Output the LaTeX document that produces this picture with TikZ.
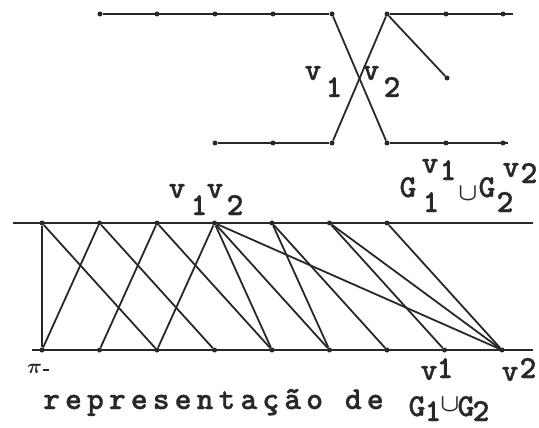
\documentclass[tikz,border=0pt]{standalone}
\usepackage{fontspec}
\usetikzlibrary{positioning}
\newfontfamily\typew{lmmonolt10-bold.otf}[FakeBold=1]
\newfontfamily\typewsp{lmmonolt10-bold.otf}[FakeBold=1,LetterSpace=16]
\definecolor{ink}{RGB}{40,40,40}

\begin{document}
\begin{tikzpicture}[x=1pt,y=-1pt,
      rail/.style={draw=ink,line width=2.2pt},
      edge/.style={draw=ink,line width=1.8pt},
      vtx/.style={circle,fill=ink,inner sep=0pt,minimum size=5pt},
      lbl/.style={text=ink,inner sep=0pt,anchor=base,
                  font=\fontsize{32}{32}\selectfont\typew},
      capt/.style={text=ink,inner sep=0pt,anchor=base west,
                   font=\fontsize{32}{32}\selectfont\typewsp},
      cupsign/.style={text=ink,inner sep=0pt,
                      font=\fontsize{24}{24}\selectfont\boldmath}]
    \useasboundingbox (0,0) rectangle (539,428);
    % G1 and G2, upper drawing
    \node[vtx] (a1) at (100,14) {};
    \node[vtx] (a2) at (157,14) {};
    \node[vtx] (a3) at (215,14) {};
    \node[vtx] (a4) at (273,14) {};
    \node[vtx] (a5) at (332,14) {};
    \node[vtx] (c1) at (387,14) {};
    \node[vtx] (c2) at (446,14) {};
    \node[vtx] (c3) at (503,14) {};
    \coordinate (cend) at (513,14);
    \node[vtx] (p)  at (447,78) {};
    \node[vtx] (d1) at (215,143) {};
    \node[vtx] (d2) at (273,143) {};
    \node[vtx] (d3) at (332,143) {};
    \node[vtx] (e1) at (387,143) {};
    \node[vtx] (e2) at (446,143) {};
    \node[vtx] (e3) at (503,143) {};
    \coordinate (eend) at (508,143);
    \draw[rail] (a1) -- (a5);
    \draw[rail] (c1) -- (cend);
    \draw[rail] (d1) -- (d3);
    \draw[rail] (e1) -- (eend);
    \draw[edge] (a5) -- (e1);
    \draw[edge] (c1) -- (d3);
    \draw[edge] (c1) -- (p);
    \node[lbl] (xv1) at (313,80) {v};
    \node[lbl] (xi1) at (334,97) {1};
    \node[lbl] (xv2) at (371,80) {v};
    \node[lbl] (xi2) at (392,97) {2};
    % union label
    \node[lbl] (ug1)  at (408,197) {G};
    \node[lbl] (uv1)  at (430,173) {v};
    \node[lbl] (us1)  at (448,180) {1};
    \node[lbl] (ul1)  at (431,212) {1};
    \node[cupsign] (ucup) at (468,194) {$\cup$};
    \node[lbl] (ug2)  at (487,197) {G};
    \node[lbl] (ul2)  at (505,212) {2};
    \node[lbl] (uv2)  at (511,177) {v};
    \node[lbl] (us2)  at (529,183) {2};

    % pi-representation, lower drawing
    \coordinate (tl) at (13,223);
    \coordinate (tr) at (533,223);
    \coordinate (bl) at (32,350);
    \coordinate (br) at (533,350);
    \draw[rail] (tl) -- (tr);
    \draw[rail] (bl) -- (br);
    \node[vtx] (t0) at (42,223) {};
    \node[vtx] (t1) at (99.5,223) {};
    \node[vtx] (t2) at (157,223) {};
    \node[vtx] (t3) at (214.5,223) {};
    \node[vtx] (t4) at (272,223) {};
    \node[vtx] (t5) at (329.5,223) {};
    \node[vtx] (t6) at (387,223) {};
    \node[vtx] (b0) at (42,350) {};
    \node[vtx] (b1) at (99.5,350) {};
    \node[vtx] (b2) at (157,350) {};
    \node[vtx] (b3) at (214.5,350) {};
    \node[vtx] (b4) at (272,350) {};
    \node[vtx] (b5) at (329.5,350) {};
    \node[vtx] (b6) at (387,350) {};
    \node[vtx] (b7) at (444.5,350) {};
    \node[vtx] (b8) at (502,350) {};
    \draw[edge] (t0) -- (b0);
    \draw[edge] (t0) -- (b2);
    \draw[edge] (t1) -- (b0);
    \draw[edge] (t1) -- (b3);
    \draw[edge] (t2) -- (b1);
    \draw[edge] (t2) -- (b4);
    \draw[edge] (t3) -- (b2);
    \draw[edge] (t3) -- (b4);
    \draw[edge] (t3) -- (b5);
    \draw[edge] (t3) -- (b8);
    \draw[edge] (t4) -- (b5);
    \draw[edge] (t4) -- (b6);
    \draw[edge] (t5) -- (b7);
    \draw[edge] (t5) -- (b8);
    \draw[edge] (t6) -- (b8);
    \node[lbl] (mv1) at (177,198) {v};
    \node[lbl] (mi1) at (199,215) {1};
    \node[lbl] (mv2) at (215,198) {v};
    \node[lbl] (mi2) at (235,215) {2};
    % caption
    \node[cupsign,font=\fontsize{20}{20}\selectfont\boldmath] (cpi) at (38,369) {$\pi$\kern1pt\rule[3pt]{6pt}{1.8pt}};
    \node[capt] (cword) at (43,409) {representação de};
    \node[lbl] (cg1)  at (417,416) {G};
    \node[lbl] (cv1)  at (429,380) {v};
    \node[lbl] (cs1)  at (445,378) {1};
    \node[lbl] (cl1)  at (433,421) {1};
    \node[cupsign] (ccup) at (450,405) {$\cup$};
    \node[lbl] (cg2)  at (466,416) {G};
    \node[lbl] (cl2)  at (481,421) {2};
    \node[lbl] (cv2)  at (510,381) {v};
    \node[lbl] (cs2)  at (528,378) {2};
  \end{tikzpicture}
\end{document}
